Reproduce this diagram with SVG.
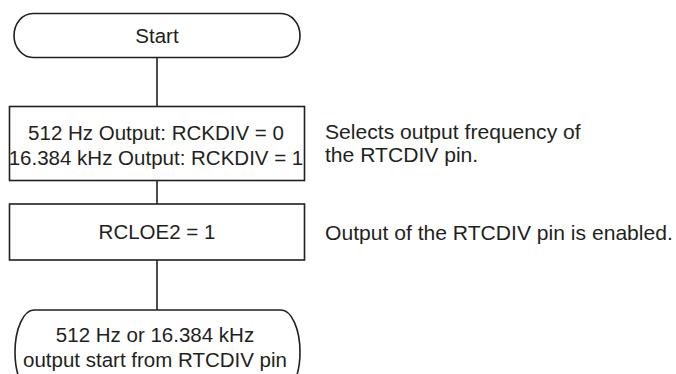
<svg xmlns="http://www.w3.org/2000/svg" width="676" height="374" viewBox="0 0 676 374">
<style>
.s{fill:#fff;stroke:#231f20;stroke-width:1.6}
.c{fill:none;stroke:#231f20;stroke-width:1.6}
text{font-family:"Liberation Sans",Arial,sans-serif;font-size:20.5px;fill:#231f20}
.m{text-anchor:middle}
.n{font-size:21.1px}
</style>
<rect width="676" height="374" fill="#fff"/>
<g id="connectors">
<line class="c" x1="157" y1="57.5" x2="157" y2="106.5"/>
<line class="c" x1="157" y1="180.5" x2="157" y2="204"/>
<line class="c" x1="157" y1="260" x2="157" y2="310"/>
</g>
<g id="start">
<rect class="s" x="14" y="13.5" width="286" height="44" rx="19" ry="22"/>
<text class="m" x="157" y="43.3">Start</text>
</g>
<g id="select">
<rect class="s" x="9.5" y="106.5" width="295" height="74"/>
<text class="m" x="156" y="140">512 Hz Output: RCKDIV = 0</text>
<text class="m" x="156" y="165">16.384 kHz Output: RCKDIV = 1</text>
</g>
<g id="enable">
<rect class="s" x="9.5" y="204" width="295" height="56"/>
<text class="m" x="157" y="238.5">RCLOE2 = 1</text>
</g>
<g id="end">
<rect class="s" x="15" y="310" width="285" height="84" rx="19" ry="42"/>
<text class="m" x="155" y="341.5">512 Hz or 16.384 kHz</text>
<text class="m" x="155" y="367">output start from RTCDIV pin</text>
</g>
<g id="notes">
<text class="n" x="325" y="139">Selects output frequency of</text>
<text class="n" x="325" y="161.5">the RTCDIV pin.</text>
<text class="n" x="325" y="239.5">Output of the RTCDIV pin is enabled.</text>
</g>
</svg>
